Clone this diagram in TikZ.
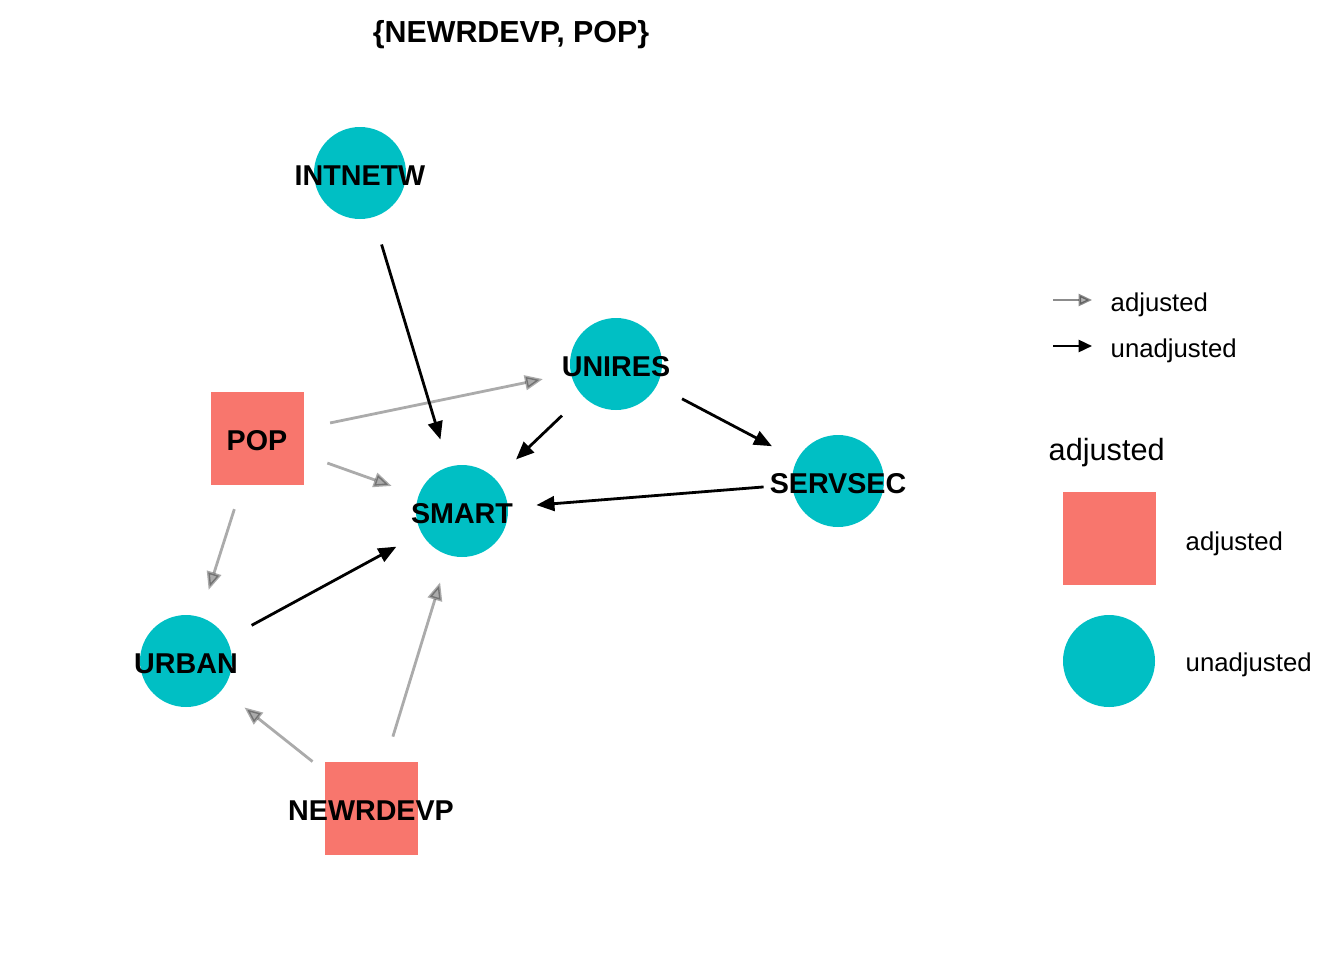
\documentclass[tikz,border=0pt]{standalone}
\usepackage{fontspec}
\setmainfont{Liberation Sans}
\usetikzlibrary{arrows.meta}
\definecolor{teal}{HTML}{00BFC4}
\definecolor{salmon}{HTML}{F8766D}
\begin{document}
\begin{tikzpicture}[x=0.75pt,y=-0.75pt,
  lbl/.style={font=\fontsize{21.5}{24}\selectfont\bfseries, text=black, yshift=-2.2pt},
  unadj/.style={circle, fill=teal, minimum size=69pt, inner sep=0pt},
  adj/.style={rectangle, fill=salmon, minimum size=69.75pt, inner sep=0pt},
  tip/.style={-{Triangle[length=13.5pt,width=11pt]}},
  blk/.style={tip, draw=black, line width=2.1pt, shorten <=56pt, shorten >=56pt},
  gry/.style={tip, draw=black, draw opacity=0.33, fill opacity=0.33, line width=2.1pt, shorten <=56pt, shorten >=56pt},
  legtxt/.style={font=\fontsize{19.3}{22}\selectfont, anchor=west, yshift=-2pt}]
\useasboundingbox (0,0) rectangle (1344,960);
\node[font=\fontsize{22.8}{26}\selectfont\bfseries, yshift=-2.2pt] (title) at (511,32) {\{NEWRDEVP, POP\}};
% node shapes
\node[unadj] (INTNETW) at (360,173) {};
\node[unadj] (UNIRES) at (616,364) {};
\node[unadj] (SMART) at (462,511) {};
\node[unadj] (SERVSEC) at (838,481) {};
\node[unadj] (URBAN) at (186,661) {};
\node[adj] (POP) at (257,438) {};
\node[adj] (NEWRDEVP) at (371,808) {};
% node labels
\node[lbl] (tINTNETW) at (INTNETW) {INTNETW};
\node[lbl] (tUNIRES) at (UNIRES) {UNIRES};
\node[lbl] (tSMART) at (SMART) {SMART};
\node[lbl] (tSERVSEC) at (SERVSEC) {SERVSEC};
\node[lbl] (tURBAN) at (URBAN) {URBAN};
\node[lbl] (tPOP) at (POP) {POP};
\node[lbl] (tNEWRDEVP) at (NEWRDEVP) {NEWRDEVP};
% edges
\draw[gry] (POP.center) -- (UNIRES.center);
\draw[gry] (POP.center) -- (SMART.center);
\draw[gry] (POP.center) -- (URBAN.center);
\draw[gry] (NEWRDEVP.center) -- (URBAN.center);
\draw[gry] (NEWRDEVP.center) -- (SMART.center);
\draw[blk] (INTNETW.center) -- (SMART.center);
\draw[blk] (UNIRES.center) -- (SMART.center);
\draw[blk] (UNIRES.center) -- (SERVSEC.center);
\draw[blk] (SERVSEC.center) -- (SMART.center);
\draw[blk] (URBAN.center) -- (SMART.center);
% legend
\coordinate (la1) at (1053,300);
\coordinate (la2) at (1092,300);
\coordinate (lb1) at (1053,346);
\coordinate (lb2) at (1092,346);
\draw[-{Triangle[length=10pt,width=9pt]}, draw=black, draw opacity=0.45, fill opacity=0.3, line width=1.8pt] (la1) -- (la2);
\draw[-{Triangle[length=10pt,width=9pt]}, draw=black, line width=1.8pt] (lb1) -- (lb2);
\node[legtxt] (l1) at (1106,302) {adjusted};
\node[legtxt] (l2) at (1106,348) {unadjusted};
\node[font=\fontsize{23}{26}\selectfont, anchor=west, yshift=-2pt] (lt) at (1044,450) {adjusted};
\node[adj] (lsq) at (1109.5,538.5) {};
\node[unadj] (lci) at (1109,661) {};
\node[legtxt] (l3) at (1181,541) {adjusted};
\node[legtxt] (l4) at (1181,662) {unadjusted};
\end{tikzpicture}
\end{document}
